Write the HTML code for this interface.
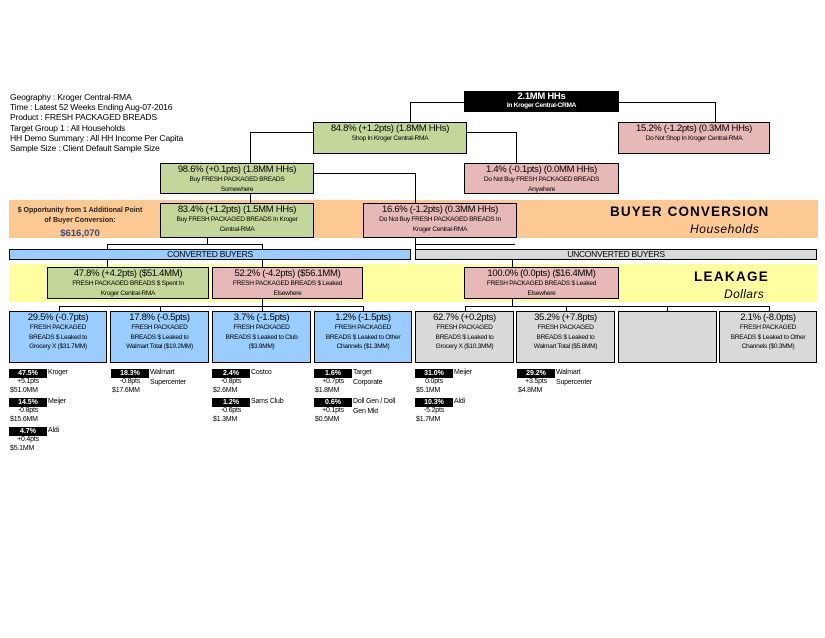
<!DOCTYPE html>
<html><head><meta charset="utf-8"><style>
body{margin:0;background:#fff;width:825px;height:638px;position:relative;overflow:hidden;font-family:"Liberation Sans",Arial,sans-serif;color:#000}
.a{position:absolute}
.b{position:absolute;box-sizing:border-box;border:1.5px solid #000;text-align:center}
.t{font-size:9.5px;letter-spacing:-0.3px;line-height:11px;margin-top:0px}
.s{font-size:6.6px;letter-spacing:-0.3px;line-height:9.5px}
.g{background:#c4d79b}.p{background:#e6b8b7}.bl{background:#99ccff}.gr{background:#d9d9d9}
.h{position:absolute;background:#000}
.hdr{font-size:8.6px;line-height:10.2px;letter-spacing:-0.2px}
.lb{position:absolute;background:#000;color:#fff;font-size:7px;width:38px;height:9px;line-height:9px;text-align:center;font-weight:bold}
.ln{position:absolute;font-size:7px;line-height:9.5px;letter-spacing:-0.2px}
</style></head><body>
<div class="a hdr" style="left:10px;top:92px">Geography : Kroger Central-RMA<br>Time : Latest 52 Weeks Ending Aug-07-2016<br>Product : FRESH PACKAGED BREADS<br>Target Group 1 : All Households<br>HH Demo Summary : All HH Income Per Capita<br>Sample Size : Client Default Sample Size</div>

<div class="a" style="left:9px;top:200px;width:809px;height:38px;background:#fcc993"></div>
<div class="a" style="left:9px;top:264px;width:809px;height:38px;background:#ffff9f"></div>

<div class="h" style="left:410px;top:102px;width:55px;height:1px"></div>
<div class="h" style="left:410px;top:102px;width:1px;height:20px"></div>
<div class="h" style="left:618px;top:102px;width:97px;height:1px"></div>
<div class="h" style="left:715px;top:102px;width:1px;height:20px"></div>
<div class="h" style="left:250px;top:132px;width:63px;height:1px"></div>
<div class="h" style="left:250px;top:132px;width:1px;height:31px"></div>
<div class="h" style="left:466px;top:132px;width:50px;height:1px"></div>
<div class="h" style="left:516px;top:132px;width:1px;height:31px"></div>
<div class="h" style="left:313px;top:173px;width:102px;height:1px"></div>
<div class="h" style="left:415px;top:173px;width:1px;height:30px"></div>
<div class="h" style="left:250px;top:193px;width:1px;height:10px"></div>
<div class="h" style="left:207px;top:237px;width:1px;height:7px"></div>
<div class="h" style="left:107px;top:244px;width:155px;height:1px"></div>
<div class="h" style="left:107px;top:244px;width:1px;height:5px"></div>
<div class="h" style="left:262px;top:244px;width:1px;height:5px"></div>
<div class="h" style="left:415px;top:237px;width:1px;height:12px"></div>
<div class="h" style="left:415px;top:244px;width:100px;height:1px"></div>
<div class="h" style="left:107px;top:259px;width:1px;height:8px"></div>
<div class="h" style="left:262px;top:259px;width:1px;height:8px"></div>
<div class="h" style="left:512px;top:259px;width:1px;height:8px"></div>
<div class="h" style="left:262px;top:298px;width:1px;height:8px"></div>
<div class="h" style="left:59px;top:306px;width:304px;height:1px"></div>
<div class="h" style="left:59px;top:306px;width:1px;height:5px"></div>
<div class="h" style="left:160px;top:306px;width:1px;height:5px"></div>
<div class="h" style="left:262px;top:306px;width:1px;height:5px"></div>
<div class="h" style="left:363px;top:306px;width:1px;height:5px"></div>
<div class="h" style="left:512px;top:298px;width:1px;height:8px"></div>
<div class="h" style="left:465px;top:306px;width:305px;height:1px"></div>
<div class="h" style="left:465px;top:306px;width:1px;height:5px"></div>
<div class="h" style="left:566px;top:306px;width:1px;height:5px"></div>
<div class="h" style="left:667px;top:306px;width:1px;height:5px"></div>
<div class="h" style="left:769px;top:306px;width:1px;height:5px"></div>

<div class="b" style="left:464px;top:91px;width:155px;height:21px;background:#000;color:#fff;border-color:#000"><div class="t" style="font-weight:bold;line-height:10px">2.1MM HHs</div><div class="s" style="line-height:7px;font-weight:bold">In Kroger Central-CRMA</div></div>
<div class="b g" style="left:313px;top:122px;width:154px;height:32px"><div class="t">84.8% (+1.2pts) (1.8MM HHs)</div><div class="s">Shop In Kroger Central-RMA</div></div>
<div class="b p" style="left:618px;top:122px;width:152px;height:32px"><div class="t">15.2% (-1.2pts) (0.3MM HHs)</div><div class="s">Do Not Shop In Kroger Central-RMA</div></div>
<div class="b g" style="left:160px;top:163px;width:154px;height:31px"><div class="t">98.6% (+0.1pts) (1.8MM HHs)</div><div class="s">Buy FRESH PACKAGED BREADS<br>Somewhere</div></div>
<div class="b p" style="left:464px;top:163px;width:155px;height:31px"><div class="t">1.4% (-0.1pts) (0.0MM HHs)</div><div class="s">Do Not Buy FRESH PACKAGED BREADS<br>Anywhere</div></div>

<div class="a" style="left:12px;top:206px;width:136px;text-align:center;font-size:7px;font-weight:bold;line-height:10px;color:#222">$ Opportunity from 1 Additional Point<br>of Buyer Conversion:<div style="font-size:9.5px;color:#3f4a78;margin-top:3px">$616,070</div></div>
<div class="b g" style="left:160px;top:203px;width:154px;height:35px"><div class="t">83.4% (+1.2pts) (1.5MM HHs)</div><div class="s">Buy FRESH PACKAGED BREADS In Kroger<br>Central-RMA</div></div>
<div class="b p" style="left:363px;top:203px;width:154px;height:35px"><div class="t">16.6% (-1.2pts) (0.3MM HHs)</div><div class="s">Do Not Buy FRESH PACKAGED BREADS In<br>Kroger Central-RMA</div></div>
<div class="a" style="left:610px;top:204px;font-size:13.5px;font-weight:bold;letter-spacing:1.1px">BUYER CONVERSION</div>
<div class="a" style="left:690px;top:222px;font-size:12px;font-style:italic;letter-spacing:0.6px">Households</div>

<div class="b bl" style="left:9px;top:249px;width:402px;height:11px;border-width:1px;font-size:8.5px;line-height:9px;letter-spacing:-0.3px">CONVERTED BUYERS</div>
<div class="b gr" style="left:415px;top:249px;width:402px;height:11px;border-width:1px;font-size:8.5px;line-height:9px;letter-spacing:-0.3px">UNCONVERTED BUYERS</div>

<div class="b g" style="left:47px;top:267px;width:162px;height:32px"><div class="t">47.8% (+4.2pts) ($51.4MM)</div><div class="s">FRESH PACKAGED BREADS $ Spent In<br>Kroger Central-RMA</div></div>
<div class="b p" style="left:212px;top:267px;width:151px;height:32px"><div class="t">52.2% (-4.2pts) ($56.1MM)</div><div class="s">FRESH PACKAGED BREADS $ Leaked<br>Elsewhere</div></div>
<div class="b p" style="left:464px;top:267px;width:155px;height:32px"><div class="t">100.0% (0.0pts) ($16.4MM)</div><div class="s">FRESH PACKAGED BREADS $ Leaked<br>Elsewhere</div></div>
<div class="a" style="left:694px;top:269px;font-size:13.5px;font-weight:bold;letter-spacing:1.3px">LEAKAGE</div>
<div class="a" style="left:724px;top:287px;font-size:12px;font-style:italic;letter-spacing:0.4px">Dollars</div>

<div class="b bl" style="left:9px;top:311px;width:98px;height:52px"><div class="t">29.5% (-0.7pts)</div><div class="s">FRESH PACKAGED<br>BREADS $ Leaked to<br>Grocery X ($31.7MM)</div></div>
<div class="b bl" style="left:110px;top:311px;width:99px;height:52px"><div class="t">17.8% (-0.5pts)</div><div class="s">FRESH PACKAGED<br>BREADS $ Leaked to<br>Walmart Total ($19.2MM)</div></div>
<div class="b bl" style="left:212px;top:311px;width:99px;height:52px"><div class="t">3.7% (-1.5pts)</div><div class="s">FRESH PACKAGED<br>BREADS $ Leaked to Club<br>($3.9MM)</div></div>
<div class="b bl" style="left:314px;top:311px;width:98px;height:52px"><div class="t">1.2% (-1.5pts)</div><div class="s">FRESH PACKAGED<br>BREADS $ Leaked to Other<br>Channels ($1.3MM)</div></div>
<div class="b gr" style="left:415px;top:311px;width:99px;height:52px"><div class="t">62.7% (+0.2pts)</div><div class="s">FRESH PACKAGED<br>BREADS $ Leaked to<br>Grocery X ($10.3MM)</div></div>
<div class="b gr" style="left:516px;top:311px;width:99px;height:52px"><div class="t">35.2% (+7.8pts)</div><div class="s">FRESH PACKAGED<br>BREADS $ Leaked to<br>Walmart Total ($5.8MM)</div></div>
<div class="b gr" style="left:618px;top:311px;width:99px;height:52px"></div>
<div class="b gr" style="left:719px;top:311px;width:98px;height:52px"><div class="t">2.1% (-8.0pts)</div><div class="s">FRESH PACKAGED<br>BREADS $ Leaked to Other<br>Channels ($0.3MM)</div></div>

<div class="lb" style="left:9px;top:369px">47.5%</div><div class="ln" style="left:48px;top:368px">Kroger</div><div class="ln" style="left:9px;top:377px;width:38px;text-align:center">+5.1pts</div><div class="ln" style="left:10px;top:386px">$51.0MM</div>
<div class="lb" style="left:9px;top:398px">14.5%</div><div class="ln" style="left:48px;top:397px">Meijer</div><div class="ln" style="left:9px;top:406px;width:38px;text-align:center">-0.8pts</div><div class="ln" style="left:10px;top:415px">$15.6MM</div>
<div class="lb" style="left:9px;top:427px">4.7%</div><div class="ln" style="left:48px;top:426px">Aldi</div><div class="ln" style="left:9px;top:435px;width:38px;text-align:center">+0.4pts</div><div class="ln" style="left:10px;top:444px">$5.1MM</div>

<div class="lb" style="left:111px;top:369px">18.3%</div><div class="ln" style="left:150px;top:368px">Walmart<br>Supercenter</div><div class="ln" style="left:111px;top:377px;width:38px;text-align:center">-0.8pts</div><div class="ln" style="left:112px;top:386px">$17.6MM</div>

<div class="lb" style="left:212px;top:369px">2.4%</div><div class="ln" style="left:251px;top:368px">Costco</div><div class="ln" style="left:212px;top:377px;width:38px;text-align:center">-0.8pts</div><div class="ln" style="left:213px;top:386px">$2.6MM</div>
<div class="lb" style="left:212px;top:398px">1.2%</div><div class="ln" style="left:251px;top:397px">Sams Club</div><div class="ln" style="left:212px;top:406px;width:38px;text-align:center">-0.6pts</div><div class="ln" style="left:213px;top:415px">$1.3MM</div>

<div class="lb" style="left:314px;top:369px">1.6%</div><div class="ln" style="left:353px;top:368px">Target<br>Corporate</div><div class="ln" style="left:314px;top:377px;width:38px;text-align:center">+0.7pts</div><div class="ln" style="left:315px;top:386px">$1.8MM</div>
<div class="lb" style="left:314px;top:398px">0.6%</div><div class="ln" style="left:353px;top:397px">Doll Gen / Doll<br>Gen Mkt</div><div class="ln" style="left:314px;top:406px;width:38px;text-align:center">+0.1pts</div><div class="ln" style="left:315px;top:415px">$0.5MM</div>

<div class="lb" style="left:415px;top:369px">31.0%</div><div class="ln" style="left:454px;top:368px">Meijer</div><div class="ln" style="left:415px;top:377px;width:38px;text-align:center">0.0pts</div><div class="ln" style="left:416px;top:386px">$5.1MM</div>
<div class="lb" style="left:415px;top:398px">10.3%</div><div class="ln" style="left:454px;top:397px">Aldi</div><div class="ln" style="left:415px;top:406px;width:38px;text-align:center">-5.2pts</div><div class="ln" style="left:416px;top:415px">$1.7MM</div>

<div class="lb" style="left:517px;top:369px">29.2%</div><div class="ln" style="left:556px;top:368px">Walmart<br>Supercenter</div><div class="ln" style="left:517px;top:377px;width:38px;text-align:center">+3.5pts</div><div class="ln" style="left:518px;top:386px">$4.8MM</div>
</body></html>
